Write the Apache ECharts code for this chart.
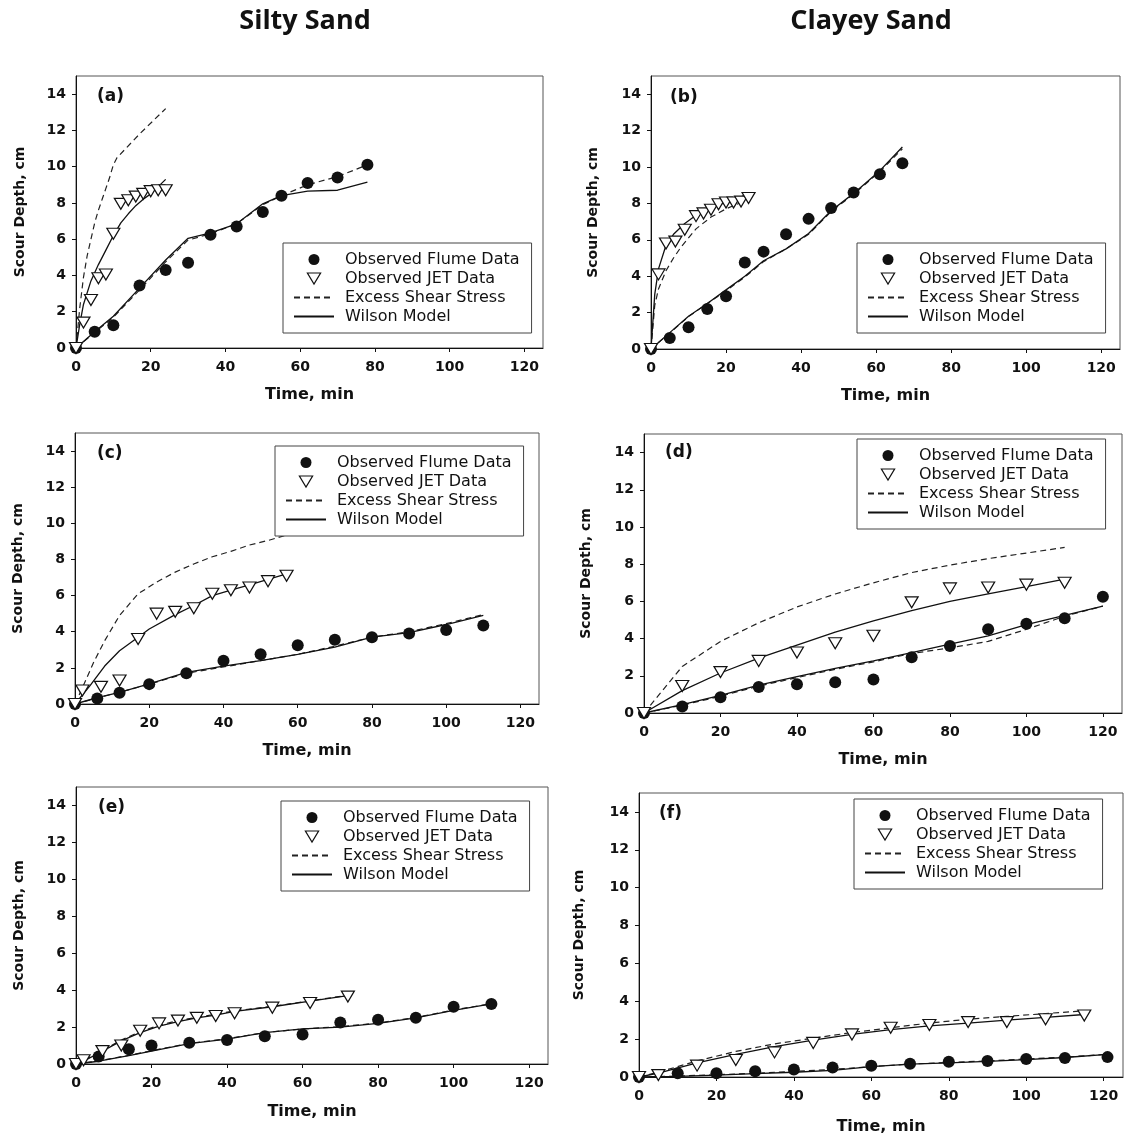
<!DOCTYPE html>
<html><head><meta charset="utf-8">
<script src="https://cdn.jsdelivr.net/npm/echarts/dist/echarts.min.js"></script>
<style>html,body{margin:0;padding:0;background:#fff}#c{width:1128px;height:1139px}</style>
</head><body><div id="c"></div><script>
// ---------- text ----------
const columnTitles = ['Silty Sand', 'Clayey Sand'];
const panelLabels = ['(a)', '(b)', '(c)', '(d)', '(e)', '(f)'];
const legendNames = ['Observed Flume Data', 'Observed JET Data', 'Excess Shear Stress', 'Wilson Model'];
const xAxisName = 'Time, min';
const yAxisName = 'Scour Depth, cm';
const xTickLabels = [0, 20, 40, 60, 80, 100, 120];
const yTickLabels = [0, 2, 4, 6, 8, 10, 12, 14];

// ---------- (a) Silty Sand ----------
const aFlumeT = [0, 5, 10, 17, 24, 30, 36, 43, 50, 55, 62, 70, 78];
const aFlumeD = [0, 0.9, 1.25, 3.45, 4.3, 4.7, 6.25, 6.7, 7.5, 8.4, 9.1, 9.4, 10.1];
const aJetT = [0, 2, 4, 6, 8, 10, 12, 14, 16, 18, 20, 22, 24];
const aJetD = [0, 1.4, 2.65, 3.85, 4.05, 6.3, 7.95, 8.15, 8.35, 8.5, 8.65, 8.7, 8.7];
const aExcessFlume = [[0,0],[5,0.85],[10,1.7],[17,3.2],[24,4.75],[30,5.95],[36,6.3],[43,6.85],[50,7.9],[55,8.4],[62,9.0],[70,9.45],[78,10.1]];
const aExcessJet = [[0,0],[1,2.2],[2,3.9],[3,5.1],[4,6.0],[5,6.9],[6,7.6],[7,8.2],[8,8.8],[9,9.4],[10,10.1],[11,10.5],[17,11.8],[24,13.2]];
const aWilsonFlume = [[0,0],[5,0.9],[10,1.75],[17,3.3],[24,4.85],[30,6.05],[36,6.35],[43,6.85],[50,7.95],[55,8.4],[62,8.65],[70,8.7],[78,9.15]];
const aWilsonJet = [[0,0],[1,1.3],[2,2.4],[4,3.7],[6,4.6],[8,5.4],[10,6.2],[12,6.9],[14,7.4],[16,7.85],[18,8.2],[20,8.5],[22,8.9],[24,9.3]];

// ---------- (b) Clayey Sand ----------
const bFlumeT = [0, 5, 10, 15, 20, 25, 30, 36, 42, 48, 54, 61, 67];
const bFlumeD = [0, 0.6, 1.2, 2.2, 2.9, 4.75, 5.35, 6.3, 7.15, 7.75, 8.6, 9.6, 10.2];
const bJetT = [0, 2, 4, 6.5, 9, 12, 14, 16, 18, 20, 22, 24, 26];
const bJetD = [0, 4.1, 5.8, 5.9, 6.55, 7.3, 7.45, 7.65, 7.95, 8.05, 8.05, 8.1, 8.3];
const bExcessFlume = [[0,0],[5,0.88],[10,1.78],[15,2.5],[20,3.2],[25,3.95],[30,4.8],[36,5.5],[42,6.3],[48,7.55],[54,8.5],[61,9.75],[67,11.0]];
const bExcessJet = [[0,0],[1,2.4],[2,3.3],[4,4.3],[6,5.0],[8,5.6],[10,6.1],[12,6.6],[16,7.25],[20,7.7],[24,8.05]];
const bWilsonFlume = [[0,0],[5,0.9],[10,1.8],[15,2.5],[20,3.25],[25,4.0],[30,4.85],[36,5.5],[42,6.35],[48,7.6],[54,8.55],[61,9.8],[67,11.1]];
const bWilsonJet = [[0,0],[1,3.0],[2,4.4],[4,5.7],[6,6.3],[9,6.9],[12,7.35],[16,7.8],[20,8.05],[24,8.35],[26,8.6]];

// ---------- (c) Silty Sand ----------
const cFlumeT = [0, 6, 12, 20, 30, 40, 50, 60, 70, 80, 90, 100, 110];
const cFlumeD = [0, 0.3, 0.62, 1.1, 1.7, 2.4, 2.75, 3.25, 3.55, 3.7, 3.9, 4.1, 4.35];
const cJetT = [0, 2, 7, 12, 17, 22, 27, 32, 37, 42, 47, 52, 57];
const cJetD = [0, 0.75, 0.95, 1.3, 3.6, 5.0, 5.1, 5.3, 6.1, 6.3, 6.45, 6.8, 7.1];
const cExcessFlume = [[0,0],[6,0.33],[12,0.65],[20,1.1],[30,1.7],[40,2.05],[50,2.4],[60,2.75],[70,3.2],[80,3.7],[90,4.0],[100,4.45],[110,4.95]];
const cExcessJet = [[0,0],[2,0.9],[5,2.3],[8,3.5],[12,4.9],[17,6.1],[22,6.75],[27,7.3],[32,7.75],[37,8.15],[42,8.45],[47,8.8],[52,9.05],[57,9.35]];
const cWilsonFlume = [[0,0],[6,0.35],[12,0.65],[20,1.12],[30,1.75],[40,2.1],[50,2.4],[60,2.75],[70,3.15],[80,3.7],[90,3.95],[100,4.4],[110,4.9]];
const cWilsonJet = [[0,0],[4,1.0],[8,2.1],[12,2.95],[17,3.7],[20,4.15],[27,4.95],[32,5.45],[37,6.0],[42,6.3],[47,6.6],[52,6.9],[57,7.2]];

// ---------- (d) Clayey Sand ----------
const dFlumeT = [0, 10, 20, 30, 40, 50, 60, 70, 80, 90, 100, 110, 120];
const dFlumeD = [0, 0.35, 0.85, 1.4, 1.55, 1.65, 1.8, 3.0, 3.6, 4.5, 4.8, 5.1, 6.25];
const dJetT = [0, 10, 20, 30, 40, 50, 60, 70, 80, 90, 100, 110];
const dJetD = [0, 1.45, 2.2, 2.8, 3.25, 3.75, 4.15, 5.95, 6.7, 6.75, 6.9, 7.0];
const dExcessFlume = [[0,0],[10,0.42],[20,0.9],[30,1.45],[40,1.9],[50,2.35],[60,2.75],[70,3.2],[80,3.5],[90,3.85],[100,4.5],[110,5.2],[120,5.75]];
const dExcessJet = [[0,0],[10,2.5],[20,3.85],[30,4.85],[40,5.7],[50,6.4],[60,7.0],[70,7.55],[80,7.95],[90,8.3],[100,8.6],[110,8.9]];
const dWilsonFlume = [[0,0],[10,0.45],[20,0.95],[30,1.5],[40,1.95],[50,2.4],[60,2.8],[70,3.25],[80,3.7],[90,4.15],[100,4.75],[110,5.25],[120,5.75]];
const dWilsonJet = [[0,0],[10,1.2],[20,2.15],[30,2.95],[40,3.65],[50,4.35],[60,4.95],[70,5.5],[80,6.0],[90,6.4],[100,6.8],[110,7.2]];

// ---------- (e) Silty Sand ----------
const eFlumeT = [0, 6, 14, 20, 30, 40, 50, 60, 70, 80, 90, 100, 110];
const eFlumeD = [0, 0.4, 0.8, 1.0, 1.15, 1.3, 1.5, 1.6, 2.25, 2.4, 2.5, 3.1, 3.25];
const eJetT = [0, 2, 7, 12, 17, 22, 27, 32, 37, 42, 52, 62, 72];
const eJetD = [0, 0.2, 0.7, 1.0, 1.8, 2.2, 2.35, 2.5, 2.6, 2.75, 3.05, 3.3, 3.65];
const eExcessFlume = [[0,0],[6,0.17],[14,0.47],[20,0.72],[30,1.12],[40,1.37],[50,1.7],[60,1.9],[70,2.02],[80,2.22],[90,2.52],[100,2.92],[110,3.27]];
const eExcessJet = [[0,0],[2,0.2],[7,0.72],[12,1.3],[17,1.75],[22,2.1],[27,2.35],[32,2.52],[37,2.7],[42,2.88],[52,3.12],[62,3.42],[72,3.72]];
const eWilsonFlume = [[0,0],[6,0.15],[14,0.45],[20,0.7],[30,1.1],[40,1.35],[50,1.7],[60,1.9],[70,2.0],[80,2.2],[90,2.5],[100,2.9],[110,3.25]];
const eWilsonJet = [[0,0],[2,0.15],[7,0.7],[12,1.25],[17,1.7],[22,2.05],[27,2.3],[32,2.5],[37,2.65],[42,2.85],[52,3.1],[62,3.4],[72,3.7]];

// ---------- (f) Clayey Sand ----------
const fFlumeT = [0, 10, 20, 30, 40, 50, 60, 70, 80, 90, 100, 110, 121];
const fFlumeD = [0, 0.2, 0.2, 0.3, 0.4, 0.5, 0.6, 0.7, 0.8, 0.85, 0.95, 1.0, 1.05];
const fJetT = [0, 5, 15, 25, 35, 45, 55, 65, 75, 85, 95, 105, 115];
const fJetD = [0, 0.1, 0.6, 0.9, 1.3, 1.8, 2.25, 2.6, 2.75, 2.9, 2.9, 3.05, 3.25];
const fExcessFlume = [[0,0],[10,0.05],[20,0.12],[30,0.2],[40,0.3],[50,0.4],[60,0.55],[70,0.68],[80,0.77],[90,0.85],[100,0.95],[110,1.05],[121,1.2]];
const fExcessJet = [[0,0],[5,0.25],[15,0.85],[25,1.35],[35,1.75],[45,2.05],[55,2.35],[65,2.6],[75,2.85],[85,3.05],[95,3.2],[105,3.35],[115,3.5]];
const fWilsonFlume = [[0,0],[10,0.03],[20,0.1],[30,0.18],[40,0.25],[50,0.35],[60,0.55],[70,0.68],[80,0.75],[90,0.83],[100,0.92],[110,1.03],[121,1.2]];
const fWilsonJet = [[0,0],[5,0.2],[15,0.75],[25,1.2],[35,1.6],[45,1.95],[55,2.25],[65,2.5],[75,2.7],[85,2.85],[95,3.0],[105,3.15],[115,3.3]];

const panels = [
  {fT:aFlumeT, fD:aFlumeD, jT:aJetT, jD:aJetD, exF:aExcessFlume, exJ:aExcessJet, wF:aWilsonFlume, wJ:aWilsonJet},
  {fT:bFlumeT, fD:bFlumeD, jT:bJetT, jD:bJetD, exF:bExcessFlume, exJ:bExcessJet, wF:bWilsonFlume, wJ:bWilsonJet},
  {fT:cFlumeT, fD:cFlumeD, jT:cJetT, jD:cJetD, exF:cExcessFlume, exJ:cExcessJet, wF:cWilsonFlume, wJ:cWilsonJet},
  {fT:dFlumeT, fD:dFlumeD, jT:dJetT, jD:dJetD, exF:dExcessFlume, exJ:dExcessJet, wF:dWilsonFlume, wJ:dWilsonJet},
  {fT:eFlumeT, fD:eFlumeD, jT:eJetT, jD:eJetD, exF:eExcessFlume, exJ:eExcessJet, wF:eWilsonFlume, wJ:eWilsonJet},
  {fT:fFlumeT, fD:fFlumeD, jT:fJetT, jD:fJetD, exF:fExcessFlume, exJ:fExcessJet, wF:fWilsonFlume, wJ:fWilsonJet}
];

// ---------- layout (styles, not data) ----------
const gridBoxes = [
  {left:76, top:76, width:467, height:272},
  {left:651, top:76, width:469, height:273},
  {left:75, top:433, width:464, height:271},
  {left:644, top:434, width:478, height:279},
  {left:76, top:787, width:472, height:277},
  {left:639, top:793, width:484, height:284}
];
const xNameGap = [39, 39, 39, 39, 40, 42];
const yNameGap = [49, 51, 50, 51, 50, 53];
const legendPos = [
  {left:283, top:243}, {left:857, top:243},
  {left:275, top:446}, {left:857, top:439},
  {left:281, top:801}, {left:854, top:799}
];
const labelPos = [[97,97],[670,98],[97,454],[665,453],[98,808],[659,814]];
const titlePos = [[305,21],[871,21]];

const INK = '#111';
const FONT = 'DejaVu Sans';
const triPath = 'path://M0,0L12,0L6,10Z';
const CLEAR = 'rgba(0,0,0,0)';

const zip = (a, b) => a.map((v, i) => [v, b[i]]);

const graphic = [];
columnTitles.forEach((t, i) => graphic.push({
  type:'text', x:titlePos[i][0], y:titlePos[i][1], silent:true,
  style:{text:t, fill:INK, font:'bold 27px "Open Sans"', textAlign:'center', textVerticalAlign:'middle'}
}));
panelLabels.forEach((t, i) => graphic.push({
  type:'text', x:labelPos[i][0], y:labelPos[i][1], silent:true,
  style:{text:t, fill:INK, font:'bold 17px "DejaVu Sans"', textAlign:'left', textVerticalAlign:'middle'}
}));

const series = [];
panels.forEach((p, i) => {
  const base = {xAxisIndex:i, yAxisIndex:i, silent:true, animation:false};
  const dashed = {type:[6,4], width:1.2, color:'#222'};
  const solid = {type:'solid', width:1.3, color:INK};
  series.push(Object.assign({type:'line', name:legendNames[2], data:p.exF, symbol:'none', z:2,
    itemStyle:{color:CLEAR}, lineStyle:dashed}, base));
  series.push(Object.assign({type:'line', name:legendNames[2], data:p.exJ, symbol:'none', z:2,
    itemStyle:{color:CLEAR}, lineStyle:dashed}, base));
  series.push(Object.assign({type:'line', name:legendNames[3], data:p.wF, symbol:'none', z:2,
    itemStyle:{color:CLEAR}, lineStyle:solid}, base));
  series.push(Object.assign({type:'line', name:legendNames[3], data:p.wJ, symbol:'none', z:2,
    itemStyle:{color:CLEAR}, lineStyle:solid}, base));
  series.push(Object.assign({type:'scatter', name:legendNames[0], data:zip(p.fT, p.fD), symbol:'circle', symbolSize:12, z:4,
    itemStyle:{color:INK, opacity:1}}, base));
  series.push(Object.assign({type:'scatter', name:legendNames[1], data:zip(p.jT, p.jD), symbol:triPath, symbolSize:[13,11], z:5,
    itemStyle:{color:'#fff', borderColor:INK, borderWidth:1.2, opacity:1}}, base));
});

const legendData = [
  {name:legendNames[0], itemStyle:{color:INK, opacity:1}},
  {name:legendNames[1], itemStyle:{color:'#fff', borderColor:INK, borderWidth:1.2, opacity:1}},
  {name:legendNames[2], itemStyle:{color:CLEAR, borderWidth:0, opacity:0}},
  {name:legendNames[3], itemStyle:{color:CLEAR, borderWidth:0, opacity:0}}
];

const option = {
  animation:false,
  backgroundColor:'#fff',
  graphic: graphic,
  grid: gridBoxes.map(g => Object.assign({show:true, borderColor:'#555', borderWidth:1, containLabel:false}, g)),
  xAxis: gridBoxes.map((g, i) => ({
    gridIndex:i, type:'value', min:0, max:125, interval:20,
    name:xAxisName, nameLocation:'middle', nameGap:xNameGap[i],
    nameTextStyle:{fontFamily:FONT, fontWeight:'bold', fontSize:16, color:INK},
    axisLine:{show:true, onZero:false, lineStyle:{color:INK, width:1}},
    axisTick:{show:true, inside:false, length:4, lineStyle:{color:INK}},
    axisLabel:{margin:12, fontFamily:FONT, fontWeight:'bold', fontSize:14, color:INK, showMaxLabel:false,
      formatter: v => xTickLabels.indexOf(v) >= 0 ? String(v) : ''},
    splitLine:{show:false}
  })),
  yAxis: gridBoxes.map((g, i) => ({
    gridIndex:i, type:'value', min:0, max:15, interval:2,
    name:yAxisName, nameLocation:'middle', nameGap:yNameGap[i],
    nameTextStyle:{fontFamily:FONT, fontWeight:'bold', fontSize:14, color:INK},
    axisLine:{show:true, onZero:false, lineStyle:{color:INK, width:1}},
    axisTick:{show:true, inside:false, length:4, lineStyle:{color:INK}},
    axisLabel:{margin:10, fontFamily:FONT, fontWeight:'bold', fontSize:14, color:INK, showMaxLabel:false,
      formatter: v => yTickLabels.indexOf(v) >= 0 ? String(v) : ''},
    splitLine:{show:false}
  })),
  legend: legendPos.map(p => ({
    left:p.left, top:p.top, orient:'vertical', data:legendData, selectedMode:false,
    itemWidth:40, itemHeight:11, itemGap:0,
    padding:[7, 12, 7, 10],
    backgroundColor:'#fff', borderColor:'#444', borderWidth:1,
    textStyle:{fontFamily:FONT, fontSize:16, color:INK, lineHeight:19, padding:[0,0,0,6]}
  })),
  series: series
};

const chart = echarts.init(document.getElementById('c'), null, {renderer:'canvas'});
chart.setOption(option);
</script></body></html>
